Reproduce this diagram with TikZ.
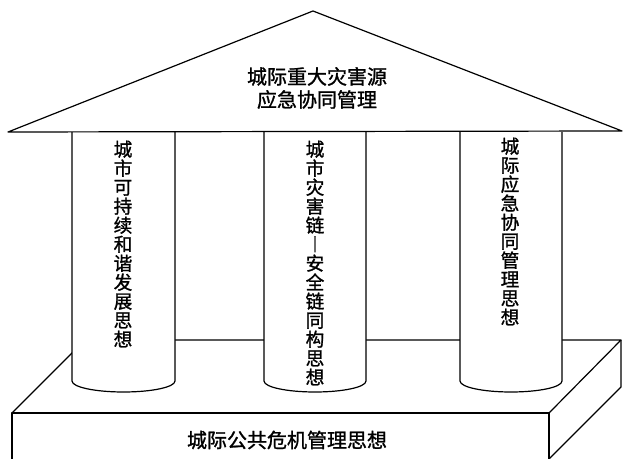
\documentclass[tikz,border=0pt]{standalone}
\usepackage{fontspec}
\newfontfamily\cjk{Noto Sans CJK SC}[FakeBold=1.2]

\begin{document}
\begin{tikzpicture}[
    x = 0.75pt, y = -0.75pt,
    line width = 0.9pt,
    line join = round,
    % white faces drawn over what stands behind them
    wall/.style = {draw, fill = white},
    label/.style = {font = \cjk\fontsize{15pt}{17.25pt}\selectfont,
      align = center, inner sep = 0pt},
    pillar/.style = {font = \cjk\fontsize{14pt}{14.25pt}\selectfont,
      align = center, inner sep = 0pt, anchor = north},
    ]
    \useasboundingbox (0, 0) rectangle (623, 459);

    \def\base{132}  % underside of the roof, top of the pillars
    \def\foot{381}  % pillar sides stop here, the bottom arc follows

    % platform (box seen from above, front face cut by the border)
    \coordinate (p0) at (12, 413);   % front top left
    \coordinate (p1) at (549, 413);  % front top right
    \coordinate (p2) at (621, 340);  % back top right
    \coordinate (p3) at (85, 340);   % back top left, hidden by the first pillar
    \coordinate (p4) at (12, 459);
    \coordinate (p5) at (549, 459);
    \coordinate (p6) at (621, 387);

    \draw (p4) -- (p0) -- (p1) -- (p5);
    \draw (p0) -- (p3) -- (p2) -- (p1);
    \draw (p2) -- (p6) -- (p5);

    % pillars
    \foreach \xl/\xr in {72/175, 264/366, 460/562}{
        \draw[wall] (\xl, \base) -- (\xl, \foot)
            arc[start angle = 180, end angle = 0,
                x radius = {(\xr-\xl)/2}, y radius = 11]
            -- (\xr, \base);
    }

    \node[pillar] (c1) at (123, 140)
        {城\\市\\可\\持\\续\\和\\谐\\发\\展\\思\\想};
    \node[pillar] (c2) at (315, 140)
        {城\\市\\灾\\害\\链\\︱\\安\\全\\链\\同\\构\\思\\想};
    \node[pillar] (c3) at (510, 137)
        {城\\际\\应\\急\\协\\同\\管\\理\\思\\想};

    % roof
    \coordinate (r0) at (8, 132);
    \coordinate (r1) at (313, 11);
    \coordinate (r2) at (622, 131);
    \draw[wall] (r0) -- (r1) -- (r2) -- cycle;

    \node[label] (roof) at (317, 88) {城际重大灾害源\\应急协同管理};
    \node[label] (floor) at (287, 440) {城际公共危机管理思想};

\end{tikzpicture}
\end{document}
